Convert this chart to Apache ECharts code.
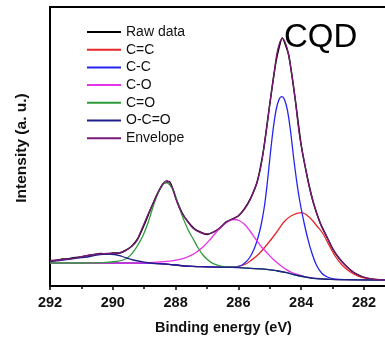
<!DOCTYPE html>
<html>
<head>
<meta charset="utf-8">
<script src="https://cdn.jsdelivr.net/npm/echarts@6/dist/echarts.min.js"></script>
<style>
  html, body { margin: 0; padding: 0; background: #fff; }
  #c { width: 385px; height: 337px; }
</style>
</head>
<body>
<div id="c"></div>
<script>
// XPS C 1s spectrum of CQD: measured data, fitted components and envelope.
// Each series is a list of [binding energy (eV), intensity (a.u.)] pairs.

const seriesNames = ['Raw data', 'C=C', 'C-C', 'C-O', 'C=O', 'O-C=O', 'Envelope'];
const tickValues = [282, 284, 286, 288, 290, 292];

const rawData = [
  [292.0,25.5],[291.8,25.8],[291.6,26.9],[291.4,27.2],[291.2,28.6],[291.0,29.1],
  [290.8,30.6],[290.6,31.3],[290.4,32.4],[290.2,32.0],[290.0,33.1],[289.8,32.9],
  [289.6,35.5],[289.4,39.8],[289.2,47.5],[289.0,61.2],[288.8,76.5],[288.6,91.0],
  [288.4,102.3],[288.2,104.6],[288.0,88.5],[287.8,73.5],[287.6,64.0],[287.4,57.2],
  [287.2,53.8],[287.0,51.6],[286.8,53.9],[286.6,57.5],[286.4,63.8],[286.2,66.9],
  [286.0,70.2],[285.8,77.6],[285.6,88.4],[285.4,104.5],[285.2,136],[285.0,182],
  [284.8,225],[284.6,248],[284.4,231],[284.2,189],[284.0,141],[283.8,108],
  [283.6,82],[283.4,63.5],[283.2,50.2],[283.0,37.4],[282.8,28.0],[282.6,21.0],
  [282.4,15.2],[282.2,11.3],[282.0,8.6],[281.8,7.2],[281.6,6.5],[281.3,6.1]
];

const ccDouble = [
  [292.0,22.7],[289.0,22.8],[288.5,22.3],[288.0,21],[287.6,19.8],[287.2,19.3],
  [286.7,18.9],[286.3,18.8],[286.05,19.3],[285.8,21.5],[285.6,25.5],[285.35,32],
  [285.1,41],[284.8,53],[284.55,64],[284.3,70.5],[284.0,73.3],[283.75,69],
  [283.5,60],[283.3,52],[283.1,40],[282.9,29],[282.7,21],[282.5,15.5],
  [282.3,11.5],[282.1,8.8],[281.9,7.3],[281.6,6.3],[281.3,6]
];

const ccSingle = [
  [292.0,22.7],[289.0,22.8],[288.5,22.3],[288.0,21],[287.6,19.8],[287.2,19.3],
  [286.7,18.9],[286.2,18.8],[285.95,20],[285.8,23],[285.65,28],[285.5,37],
  [285.38,48],[285.27,62],[285.17,80],[285.08,103],[284.99,130],[284.9,155],
  [284.8,176],[284.7,187],[284.62,189.3],[284.54,187],[284.44,176],[284.34,155],
  [284.24,128],[284.14,104],[284.04,84],[283.9,62],[283.78,46],[283.65,32],
  [283.5,20],[283.35,13],[283.2,9.5],[283.0,7.3],[282.8,6.6],[282.4,6.2],[281.3,6]
];

const coSingle = [
  [292.0,22.7],[290.0,22.8],[289.0,23.2],[288.5,24],[288.18,24.8],[287.9,26.3],
  [287.65,28.7],[287.4,32.5],[287.12,39.3],[286.9,46.5],[286.7,54],[286.5,60.5],
  [286.3,65],[286.15,66.5],[285.98,65.5],[285.8,61.5],[285.63,55],[285.45,47],
  [285.25,38.5],[285.1,33.5],[284.9,27],[284.7,21.5],[284.5,17],[284.3,13.5],
  [284.04,10.8],[283.8,8.8],[283.5,7.6],[283.2,6.8],[282.6,6.3],[281.3,6]
];

const coDouble = [
  [292.0,23],[291.0,23],[290.3,23.3],[289.9,24.5],[289.67,26],[289.5,29],
  [289.35,34],[289.2,41],[289.03,51],[288.87,64],[288.72,79],[288.58,91],
  [288.45,99],[288.32,103.3],[288.18,101],[288.05,94],[287.9,80],[287.75,67],
  [287.6,56],[287.44,47],[287.28,38],[287.13,31],[286.95,25.5],[286.8,22.3],
  [286.6,20.2],[286.4,19.2],[286.1,18.8],[285.6,17.6],[285.1,16.7],[284.75,15],
  [284.46,13.3],[284.04,10],[283.62,7.7],[283.08,6.7],[282.5,6.3],[281.3,6]
];

const carboxyl = [
  [292.0,24.3],[291.7,25.5],[291.36,26.8],[291.0,28.3],[290.73,29.5],[290.45,31.2],
  [290.2,32],[289.95,31.5],[289.7,29.5],[289.35,26],[289.0,23.8],[288.7,22.7],
  [288.3,21.8],[288.0,21],[287.6,19.8],[287.2,19.3],[286.7,18.9],[286.2,18.7],
  [285.7,17.8],[285.1,16.7],[284.75,15],[284.46,13.3],[284.25,11.5],[284.04,10],
  [283.8,8.6],[283.62,7.7],[283.3,7],[283.08,6.7],[282.5,6.3],[281.3,6]
];

const envelope = [
  [292.0,25],[291.6,26.5],[291.26,27.7],[290.9,30],[290.5,32],[290.2,32.5],
  [289.88,32.7],[289.67,34.3],[289.5,37.5],[289.35,41],[289.24,45],[289.13,53],
  [288.9,70],[288.71,83],[288.5,97],[288.28,105.3],[288.1,98],[287.96,84],
  [287.8,73],[287.65,66],[287.45,58],[287.25,54],[287.05,52],[286.85,53],
  [286.6,58],[286.4,63.5],[286.22,66.5],[286.0,70],[285.8,77],[285.63,86],
  [285.5,96],[285.4,104],[285.28,120],[285.18,140],[285.07,165],[284.97,189],
  [284.85,215],[284.75,236],[284.6,247.7],[284.45,238],[284.32,216],[284.2,189],
  [284.05,150],[283.88,121],[283.72,96],[283.56,78],[283.4,63],[283.3,56],
  [283.18,49],[282.98,36],[282.75,26],[282.55,19.5],[282.35,14],[282.13,10],
  [281.9,8],[281.71,6.7],[281.5,6.2],[281.3,6]
];

const FONT = '"Liberation Sans", Arial, sans-serif';

function curve(name, data, color, width, smooth) {
  return {
    name: name,
    type: 'line',
    data: data,
    showSymbol: false,
    symbol: 'none',
    smooth: smooth,
    color: color,
    lineStyle: { color: color, width: width },
    emphasis: { disabled: true }
  };
}

const chart = echarts.init(document.getElementById('c'), null, { renderer: 'canvas' });

chart.setOption({
  animation: false,
  backgroundColor: '#fff',
  grid: {
    left: 50, top: 7, right: -41.8, bottom: 51,
    containLabel: false,
    outerBoundsMode: 'none',
    show: true, borderColor: '#000', borderWidth: 2, backgroundColor: 'transparent'
  },
  legend: {
    orient: 'vertical',
    left: 87, top: 24.5, padding: 0,
    itemWidth: 34, itemHeight: 2, itemGap: 2.7,
    icon: 'rect',
    selectedMode: false,
    data: seriesNames,
    textStyle: { fontFamily: FONT, fontSize: 14, color: '#111', lineHeight: 15 }
  },
  xAxis: {
    type: 'value',
    inverse: true,
    min: 280, max: 292, interval: 2,
    axisLine: { show: true, onZero: false, lineStyle: { color: '#000', width: 2 } },
    axisTick: { show: true, length: 4, lineStyle: { color: '#000', width: 1.5 } },
    minorTick: { show: true, splitNumber: 2, length: 3, lineStyle: { color: '#000', width: 1.5 } },
    splitLine: { show: false },
    minorSplitLine: { show: false },
    axisLabel: {
      color: '#111', fontFamily: FONT, fontSize: 14.5, fontWeight: 'bold', margin: 9,
      formatter: function (v) { return tickValues.indexOf(v) >= 0 ? String(v) : ''; }
    },
    name: 'Binding energy (eV)',
    nameLocation: 'middle',
    nameGap: 34,
    nameTextStyle: { color: '#111', fontFamily: FONT, fontSize: 14.5, fontWeight: 'bold', padding: [0, 30, 0, 0] }
  },
  yAxis: {
    type: 'value',
    min: 0, max: 279,
    axisLine: { show: true, lineStyle: { color: '#000', width: 2 } },
    axisTick: { show: false },
    axisLabel: { show: false },
    splitLine: { show: false },
    name: 'Intensity (a. u.)',
    nameLocation: 'middle',
    nameGap: 20,
    nameTextStyle: { color: '#111', fontFamily: FONT, fontSize: 15.5, fontWeight: 'bold', padding: [0, 3, 0, 0] }
  },
  graphic: [{
    type: 'text',
    left: 284, top: 21,
    style: { text: 'CQD', fontFamily: FONT, fontSize: 33, fill: '#000' }
  }],
  series: [
    curve('Raw data', rawData, '#000000', 1.5, 0.2),
    curve('C=C', ccDouble, '#e8262a', 1.3, 0.4),
    curve('C-C', ccSingle, '#2424f0', 1.3, 0.4),
    curve('C-O', coSingle, '#e632e6', 1.3, 0.4),
    curve('C=O', coDouble, '#2f9a3a', 1.3, 0.4),
    curve('O-C=O', carboxyl, '#1e1e8c', 1.3, 0.4),
    curve('Envelope', envelope, '#7a1a78', 1.3, 0.4)
  ]
});
</script>
</body>
</html>
